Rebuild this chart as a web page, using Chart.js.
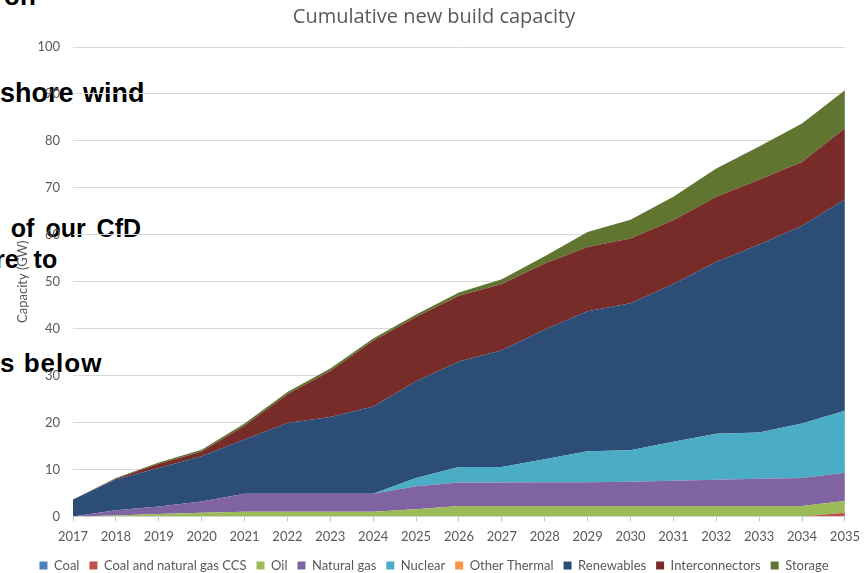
<!DOCTYPE html>
<html>
<head>
<meta charset="utf-8">
<script src="https://cdn.jsdelivr.net/npm/chart.js@4.4.1/dist/chart.umd.min.js"></script>
<style>
  html, body { margin: 0; padding: 0; background: #ffffff; }
  #wrap { position: relative; width: 868px; height: 573px; overflow: hidden; }
  #wrap canvas { position: absolute; left: 0; top: 0; z-index: 2; }
  .slide { position: absolute; z-index: 1; font-family: "Liberation Sans", Arial, sans-serif; font-weight: bold;
           color: #000; white-space: nowrap; line-height: 1; }
</style>
</head>
<body>
<div id="wrap">
  <div class="slide" style="left:4px; top:-17px; font-size:26px;">on</div>
  <div class="slide" style="left:0px; top:80px; font-size:27px; word-spacing:2px;">shore wind</div>
  <div class="slide" style="left:-14px; top:216px; font-size:25px; word-spacing:4px;">s of our CfD</div>
  <div class="slide" style="left:-5px; top:247px; font-size:25px; word-spacing:8px;">re to</div>
  <div class="slide" style="left:0px; top:350px; font-size:26px; letter-spacing:1px;">s below</div>
  <canvas id="c" width="868" height="573"></canvas>
</div>
<script>
const years = ['2017','2018','2019','2020','2021','2022','2023','2024','2025','2026','2027','2028','2029','2030','2031','2032','2033','2034','2035'];
const coal            = [0,0,0,0,0,0,0,0,0,0,0,0,0,0,0,0,0,0,0];
const coalGasCCS      = [0,0,0,0,0,0,0,0,0,0,0,0,0,0,0,0,0,0,0.8];
const oil             = [0,0.2,0.5,0.8,1.0,1.0,1.0,1.0,1.5,2.2,2.2,2.2,2.2,2.2,2.2,2.2,2.2,2.2,2.5];
const naturalGas      = [0,1.1,1.6,2.4,3.8,3.8,3.8,3.8,4.9,5.0,5.0,5.1,5.1,5.2,5.4,5.6,5.8,6.0,6.0];
const nuclear         = [0,0,0,0,0,0,0,0,1.8,3.3,3.3,4.9,6.6,6.7,8.3,9.8,9.9,11.6,13.2];
const otherThermal    = [0,0,0,0,0,0,0,0,0,0,0,0,0,0,0,0,0,0,0];
const renewables      = [3.6,6.6,8.2,9.6,11.6,15.1,16.4,18.6,20.6,22.5,24.9,27.6,29.8,31.3,33.6,36.6,40.0,42.1,45.0];
const interconnectors = [0,0.2,0.9,1.0,2.9,6.1,9.8,14.0,13.7,14.0,14.1,14.1,13.7,13.8,13.6,13.9,13.8,13.6,15.2];
const storage         = [0,0.1,0.3,0.4,0.5,0.5,0.5,0.5,0.5,0.7,1.0,1.5,3.2,4.0,5.0,6.0,7.1,8.2,8.1];

const seriesNames = ['Coal','Coal and natural gas CCS','Oil','Natural gas','Nuclear','Other Thermal','Renewables','Interconnectors','Storage'];
const seriesData = [coal, coalGasCCS, oil, naturalGas, nuclear, otherThermal, renewables, interconnectors, storage];
const seriesColors = ['#4f81bd','#c0504d','#9bbb59','#8064a2','#4bacc6','#f79646','#2c4d75','#772c2a','#5f7530'];

const datasets = seriesNames.map((name, i) => ({
  label: name,
  data: seriesData[i],
  backgroundColor: seriesColors[i],
  borderColor: seriesColors[i],
  borderWidth: 0,
  pointRadius: 0,
  pointHoverRadius: 0,
  tension: 0,
  fill: i === 0 ? 'origin' : '-1'
}));

const grey = '#595959';
new Chart(document.getElementById('c'), {
  type: 'line',
  data: { labels: years, datasets },
  options: {
    responsive: false,
    animation: false,
    devicePixelRatio: 1,
    layout: { padding: { left: 0, right: 0, top: 0, bottom: -9 } },
    plugins: {
      title: {
        display: true,
        text: 'Cumulative new build capacity',
        color: grey,
        font: { family: 'Open Sans', size: 20, weight: 'normal' },
        padding: { top: 5, bottom: 18 }
      },
      legend: {
        position: 'bottom',
        labels: {
          color: grey,
          font: { family: 'Lato', size: 13 },
          boxWidth: 8,
          boxHeight: 8,
          padding: 10
        }
      },
      tooltip: { enabled: false }
    },
    scales: {
      x: {
        offset: false,
        afterFit: s => { s.height = 32.6; },
        grid: { display: true, drawOnChartArea: false, drawTicks: true, tickLength: 5, color: '#bfbfbf' },
        border: { display: true, color: '#d9d9d9' },
        ticks: { color: grey, font: { family: 'Lato', size: 13 }, padding: 8, maxRotation: 0, autoSkip: false }
      },
      y: {
        stacked: true,
        min: 0,
        max: 100,
        afterFit: s => { s.width = 73; },
        grid: { color: '#d9d9d9', drawTicks: false },
        border: { display: false },
        ticks: { stepSize: 10, color: grey, font: { family: 'Lato', size: 13 }, padding: 13 },
        title: {
          display: true,
          text: 'Capacity (GW)',
          color: grey,
          font: { family: 'Lato', size: 13 },
          padding: { top: 15, bottom: 0 }
        }
      },
      spacer: {
        type: 'linear',
        position: 'right',
        display: true,
        afterFit: s => { s.width = 17; },
        grid: { display: false, drawTicks: false },
        border: { display: false },
        ticks: { display: false }
      }
    }
  }
});
</script>
</body>
</html>
